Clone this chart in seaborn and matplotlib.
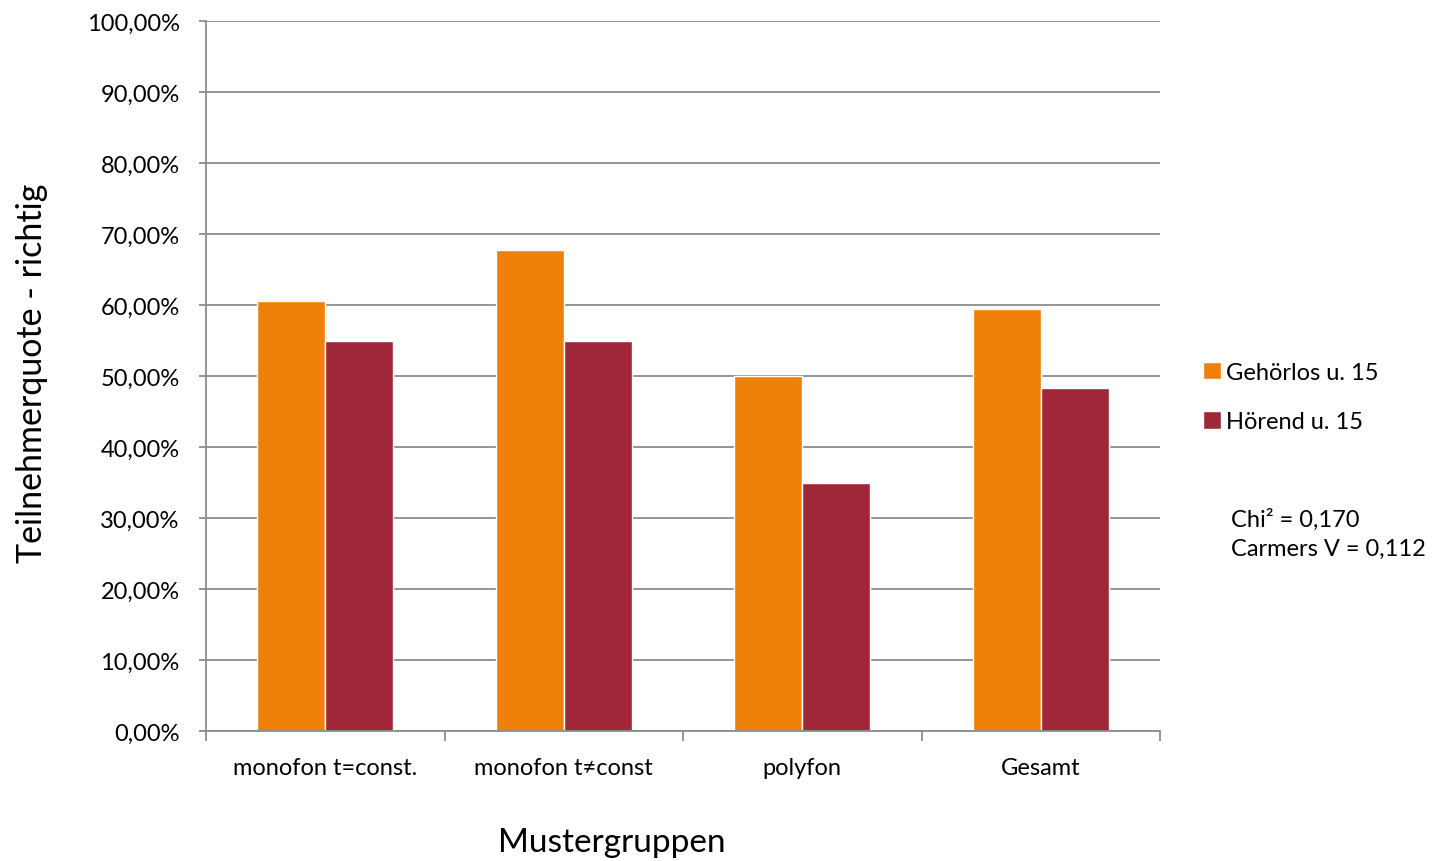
import matplotlib
matplotlib.use("Agg")
import matplotlib.pyplot as plt
import seaborn as sns
import pandas as pd
from matplotlib.ticker import FuncFormatter, MultipleLocator, FixedLocator

categories = ["monofon t=const.", "monofon t≠const", "polyfon", "Gesamt"]
series_names = ["Gehörlos u. 15", "Hörend u. 15"]
gehoerlos = [60.6, 67.8, 50.0, 59.4]
hoerend = [55.0, 55.0, 35.0, 48.3]
colors = ["#EF800A", "#A02737"]

df = pd.DataFrame({
    "Mustergruppen": categories * 2,
    "Wert": gehoerlos + hoerend,
    "Gruppe": [series_names[0]] * 4 + [series_names[1]] * 4,
})

sns.set_theme(style="white")
plt.rcParams["font.family"] = ["Lato", "DejaVu Sans"]
plt.rcParams["text.color"] = "black"
plt.rcParams["axes.labelcolor"] = "black"

fig = plt.figure(figsize=(14.33, 8.62), dpi=100)
ax = fig.add_axes([206 / 1433, 1 - 732 / 862, (1160 - 206) / 1433, (732 - 22) / 862])

sns.barplot(data=df, x="Mustergruppen", y="Wert", hue="Gruppe",
            palette=colors, width=0.57, ax=ax, saturation=1, legend=True)

ax.set_ylim(0, 100)
ax.set_xlim(-0.5, 3.5)
ax.yaxis.set_major_locator(MultipleLocator(10))
ax.yaxis.set_major_formatter(FuncFormatter(lambda v, p: f"{v:.2f}%".replace(".", ",")))
ax.grid(axis="y", color="#8c8c8c", linewidth=1.3)
ax.set_axisbelow(True)
for s in ["top", "right"]:
    ax.spines[s].set_visible(False)
for s in ["left", "bottom"]:
    ax.spines[s].set_color("#8c8c8c")
    ax.spines[s].set_linewidth(1.3)

ax.tick_params(axis="y", which="major", length=5, color="#8c8c8c", width=1.3,
               labelsize=17, left=True, labelcolor="black", pad=14)
ax.tick_params(axis="x", which="major", length=0, labelsize=17, pad=19, labelcolor="black")
ax.xaxis.set_minor_locator(FixedLocator([-0.5, 0.5, 1.5, 2.5, 3.5]))
ax.tick_params(axis="x", which="minor", length=7, color="#8c8c8c", width=1.3, bottom=True)

ax.set_xlabel("")
ax.set_ylabel("")
fig.text(612 / 1433, 1 - 843 / 862, "Mustergruppen", fontsize=24, ha="center", va="center")
fig.text(32 / 1433, 1 - 373 / 862, "Teilnehmerquote - richtig", fontsize=24.5,
         ha="center", va="center", rotation=90)

leg = ax.legend(loc="upper left", bbox_to_anchor=(1.035, 0.533), frameon=False,
                fontsize=17, handlelength=0.75, handleheight=0.75, handletextpad=0.25,
                labelspacing=1.2, borderaxespad=0)

fig.text(1231 / 1433, 1 - 534 / 862, "Chi² = 0,170\nCarmers V = 0,112", fontsize=17,
         va="center", ha="left", linespacing=1.45)

fig.savefig("out.png", dpi=100)
